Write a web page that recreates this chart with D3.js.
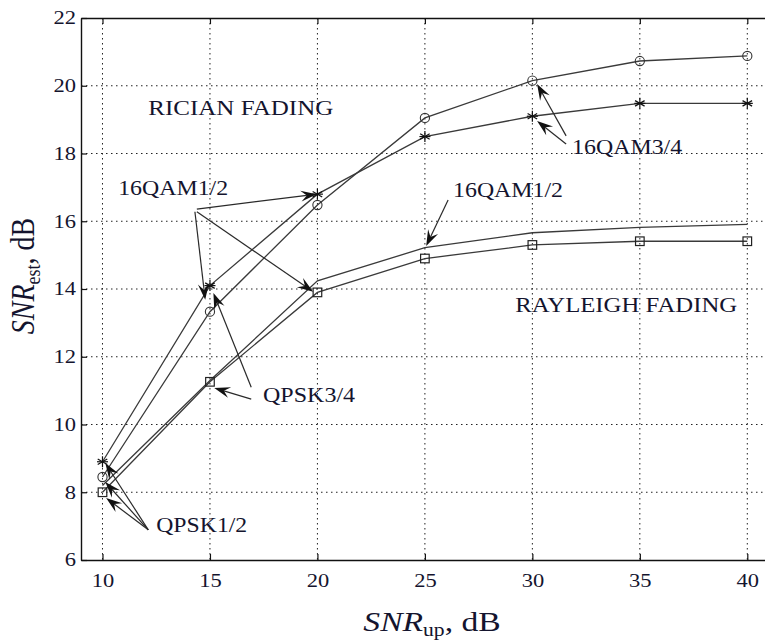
<!DOCTYPE html>
<html>
<head>
<meta charset="utf-8">
<script src="https://cdn.jsdelivr.net/npm/d3@7"></script>
<style>
  body { margin: 0; background: #fff; }
  svg { display: block; }
  text { font-family: "Liberation Serif", "DejaVu Serif", serif; fill: #14142e; }
</style>
</head>
<body>
<svg id="chart" width="765" height="641"></svg>
<script>
// SNR_up values (dB)
const snrUp = [10, 15, 20, 25, 30, 35, 40];

// SNR_est
const ricianQam34 = [8.45, 13.33, 16.48, 19.05, 20.15, 20.73, 20.88]; // circles
const ricianQam12 = [8.9, 14.1, 16.8, 18.5, 19.1, 19.48, 19.48];     // stars
const rayleighQam12 = [8.2, 11.3, 14.24, 15.22, 15.66, 15.82, 15.91]; // plain
const rayleighQpsk = [8.0, 11.26, 13.9, 14.9, 15.3, 15.41, 15.41];   // squares

const xTicks = [10, 15, 20, 25, 30, 35, 40];
const yTicks = [6, 8, 10, 12, 14, 16, 18, 20, 22];

// text labels placed in data coordinates (w = rendered width in px)
const labels = [
  { text: "RICIAN FADING", x: 12.13, y: 19.14, w: 185 },
  { text: "RAYLEIGH FADING", x: 29.2, y: 13.32, w: 222 },
  { text: "16QAM1/2", x: 10.73, y: 16.77, w: 110 },
  { text: "16QAM1/2", x: 26.31, y: 16.72, w: 110 },
  { text: "16QAM3/4", x: 31.85, y: 17.98, w: 110 },
  { text: "QPSK3/4", x: 17.47, y: 10.66, w: 92 },
  { text: "QPSK1/2", x: 12.5, y: 6.83, w: 91 }
];

// arrows: [tailX, tailY, tipX, tipY] in data coordinates
const arrows = [
  [14.39, 16.36, 19.97, 16.8],
  [14.3, 16.28, 14.78, 13.68],
  [14.39, 16.28, 19.8, 13.92],
  [26.08, 16.63, 25.06, 15.27],
  [31.57, 18.52, 30.22, 20.05],
  [31.57, 18.28, 30.22, 18.96],
  [16.92, 11.1, 15.16, 13.88],
  [16.92, 10.75, 15.2, 11.08],
  [12.13, 6.89, 10.13, 8.86],
  [12.13, 6.89, 10.13, 8.3],
  [12.13, 6.89, 10.17, 7.83]
];

const svg = d3.select("#chart");
const margin = { left: 81, top: 18 };
const plotW = 687.8;
const plotH = 542;
const stretch = 1.25; // text in the picture is a bit wider than normal

const x = d3.scaleLinear().domain([9, 41]).range([margin.left, margin.left + plotW]);
const y = d3.scaleLinear().domain([6, 22]).range([margin.top + plotH, margin.top]);

// grid
const grid = svg.append("g").attr("class", "grid")
  .attr("stroke", "#222").attr("stroke-width", 1).attr("stroke-dasharray", "1.5,3.5");
grid.selectAll("line.v").data(xTicks).join("line").attr("class", "v")
  .attr("x1", d => x(d)).attr("x2", d => x(d))
  .attr("y1", y(22)).attr("y2", y(6));
grid.selectAll("line.h").data(yTicks.slice(1, -1)).join("line").attr("class", "h")
  .attr("x1", x(9)).attr("x2", x(41))
  .attr("y1", d => y(d)).attr("y2", d => y(d));

// axes
const xAxis = svg.append("g")
  .attr("transform", `translate(0,${y(6)})`)
  .call(d3.axisBottom(x).tickValues(xTicks).tickSizeInner(-6).tickSizeOuter(0).tickPadding(14));
const xTop = svg.append("g")
  .attr("transform", `translate(0,${y(22)})`)
  .call(d3.axisTop(x).tickValues(xTicks).tickSizeInner(-6).tickSizeOuter(0).tickFormat(""));
const yAxis = svg.append("g")
  .attr("transform", `translate(${x(9)},0)`)
  .call(d3.axisLeft(y).tickValues(yTicks).tickSizeInner(-6).tickSizeOuter(0).tickPadding(5));

[xAxis, xTop, yAxis].forEach(g => {
  g.select(".domain").attr("stroke", "#111").attr("stroke-width", 1.4);
  g.selectAll(".tick line").attr("stroke", "#111").attr("stroke-width", 1.2);
  g.selectAll(".tick text").attr("font-size", 18)
    .attr("font-family", "Liberation Serif").attr("fill", "#14142e")
    .attr("transform", `scale(${stretch},1)`);
});
yAxis.selectAll(".tick text").attr("x", -5 / stretch);

// series lines
const line = d3.line().x((d, i) => x(snrUp[i])).y(d => y(d));
const series = [ricianQam34, ricianQam12, rayleighQam12, rayleighQpsk];
svg.append("g").selectAll("path").data(series).join("path")
  .attr("d", line).attr("fill", "none").attr("stroke", "#3a3a3a").attr("stroke-width", 1.3);

// markers
const pts = arr => arr.map((v, i) => [x(snrUp[i]), y(v)]);
svg.append("g").selectAll("circle").data(pts(ricianQam34)).join("circle")
  .attr("cx", d => d[0]).attr("cy", d => d[1]).attr("r", 4.6)
  .attr("fill", "none").attr("stroke", "#333").attr("stroke-width", 1.1);
svg.append("g").selectAll("rect").data(pts(rayleighQpsk)).join("rect")
  .attr("x", d => d[0] - 4.3).attr("y", d => d[1] - 4.3).attr("width", 8.6).attr("height", 8.6)
  .attr("fill", "none").attr("stroke", "#222").attr("stroke-width", 1.2);
const star = svg.append("g").attr("stroke", "#111").attr("stroke-width", 1.2);
pts(ricianQam12).forEach(([px, py]) => {
  const r = 5.5;
  [0, 60, 120].forEach(a => {
    const rad = (a + 90) * Math.PI / 180;
    star.append("line")
      .attr("x1", px - r * Math.cos(rad)).attr("y1", py - r * Math.sin(rad))
      .attr("x2", px + r * Math.cos(rad)).attr("y2", py + r * Math.sin(rad));
  });
  star.append("line").attr("x1", px - r).attr("x2", px + r).attr("y1", py).attr("y2", py);
});

// arrows
const arrowG = svg.append("g");
arrows.forEach(([tx, ty, hx, hy]) => {
  const x1 = x(tx), y1 = y(ty), x2 = x(hx), y2 = y(hy);
  const ang = Math.atan2(y2 - y1, x2 - x1);
  const L = 16, W = 5.5, back = 10;
  arrowG.append("line")
    .attr("x1", x1).attr("y1", y1)
    .attr("x2", x2 - back * Math.cos(ang)).attr("y2", y2 - back * Math.sin(ang))
    .attr("stroke", "#2a2a2a").attr("stroke-width", 1.2);
  const c = Math.cos(ang), s = Math.sin(ang);
  const p = (u, v) => [x2 + u * c - v * s, y2 + u * s + v * c];
  const head = [p(0, 0), p(-L, W), p(-back, 0), p(-L, -W)];
  arrowG.append("path")
    .attr("d", "M" + head.map(q => q.join(",")).join("L") + "Z")
    .attr("fill", "#111");
});

// annotation labels
svg.append("g").selectAll("text").data(labels).join("text")
  .attr("x", d => x(d.x)).attr("y", d => y(d.y))
  .attr("font-size", 21)
  .attr("textLength", d => d.w).attr("lengthAdjust", "spacingAndGlyphs")
  .text(d => d.text);

// axis titles
const xt = svg.append("text")
  .attr("transform", `translate(432,631) scale(1.2,1)`)
  .attr("text-anchor", "middle").attr("font-size", 28);
xt.append("tspan").attr("font-style", "italic").text("SNR");
xt.append("tspan").attr("font-size", 18).attr("dy", 5).text("up");
xt.append("tspan").attr("dy", -5).text(", dB");

const yt = svg.append("text")
  .attr("transform", "translate(34,276) scale(1.2,1) rotate(-90)")
  .attr("text-anchor", "middle").attr("font-size", 28);
yt.append("tspan").attr("font-style", "italic").text("SNR");
yt.append("tspan").attr("font-size", 18).attr("dy", 5).text("est");
yt.append("tspan").attr("dy", -5).text(", dB");
</script>
</body>
</html>
